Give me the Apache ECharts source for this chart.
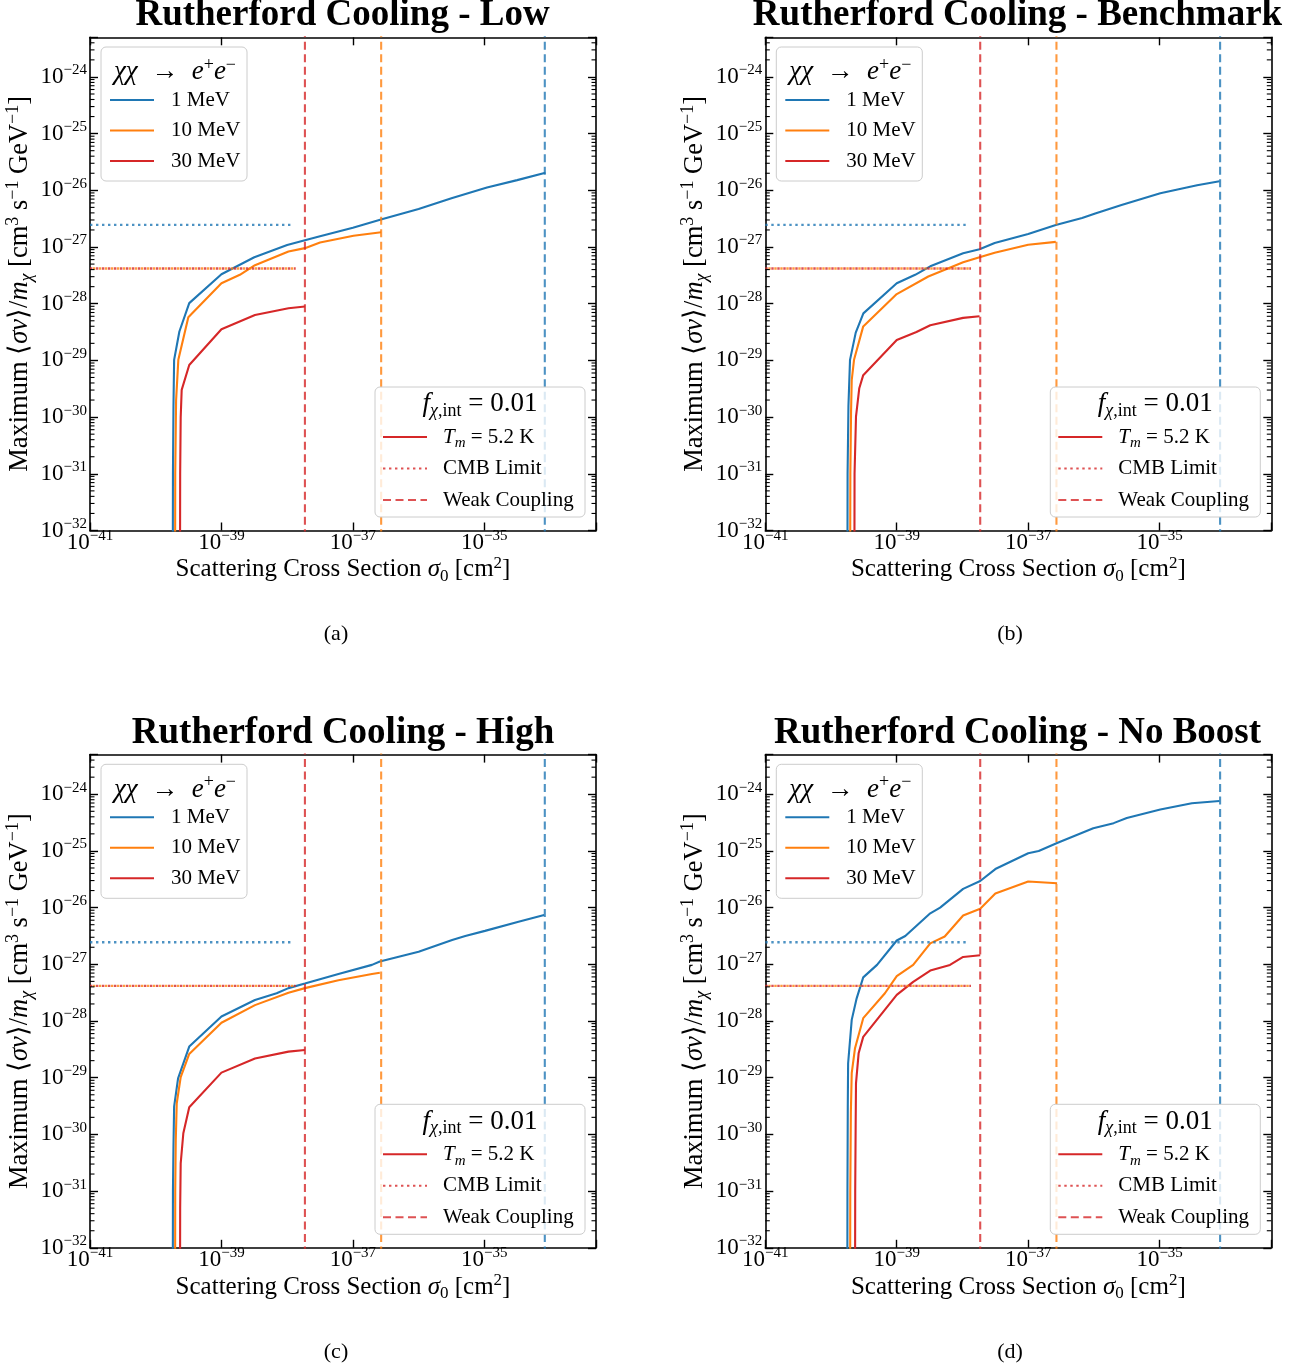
<!DOCTYPE html>
<html><head><meta charset="utf-8">
<script src="https://cdn.jsdelivr.net/npm/echarts@6/dist/echarts.min.js"></script>
<style>html,body{margin:0;padding:0;background:#fff}#c{width:1307px;height:1369px}</style>
</head><body><div id="c"></div>
<script>
// ---------------- data (log10 values) ----------------
// both axes are logarithmic: every number below is a base-10 exponent
const xTickExponents = [-41, -39, -37, -35];
const yTickExponents = [-32, -31, -30, -29, -28, -27, -26, -25, -24];
const massLabels = ['1 MeV', '10 MeV', '30 MeV'];
const panelTitles = ['Rutherford Cooling - Low', 'Rutherford Cooling - Benchmark', 'Rutherford Cooling - High', 'Rutherford Cooling - No Boost'];
const panelCaptions = ['(a)', '(b)', '(c)', '(d)'];
// weak-coupling limit (log10 sigma0) for 1, 10, 30 MeV
const weakCouplingLogSigma = [-34.08, -36.57, -37.73];
// CMB limit (log10 <sv>/m) and where the dotted line ends (log10 sigma0)
const cmbLimitLogRate = [-26.61, -27.38, -27.38];
const cmbLimitEndLogSigma = [-37.94, -37.87, -37.87];

// [log10 sigma0, log10 <sv>/m]
const lowBlue = [[-39.742,-34],[-39.738,-31],[-39.73,-29.8],[-39.72,-28.99],[-39.64,-28.49],[-39.49,-27.99],[-39.0,-27.48],[-38.5,-27.18],[-38.0,-26.965],[-37.73,-26.88],[-37.5,-26.81],[-37.0,-26.66],[-36.56,-26.51],[-36.0,-26.33],[-35.5,-26.14],[-34.96,-25.95],[-34.5,-25.82],[-34.07,-25.69]];
const lowOrange = [[-39.707,-34],[-39.703,-31],[-39.69,-29.7],[-39.656,-28.99],[-39.504,-28.24],[-39.0,-27.64],[-38.72,-27.49],[-38.49,-27.32],[-37.98,-27.08],[-37.73,-27.02],[-37.5,-26.92],[-36.99,-26.80],[-36.57,-26.74]];
const lowRed = [[-39.632,-34],[-39.628,-31],[-39.62,-30.0],[-39.605,-29.52],[-39.49,-29.08],[-39.0,-28.45],[-38.49,-28.2],[-37.98,-28.08],[-37.73,-28.05]];

const benchBlue = [[-39.752,-34],[-39.748,-31],[-39.735,-29.8],[-39.711,-28.99],[-39.624,-28.51],[-39.508,-28.17],[-39.0,-27.64],[-38.72,-27.49],[-38.49,-27.34],[-37.99,-27.11],[-37.74,-27.04],[-37.51,-26.93],[-37.0,-26.77],[-36.58,-26.61],[-36.18,-26.49],[-35.98,-26.41],[-35.58,-26.26],[-34.99,-26.05],[-34.71,-25.98],[-34.43,-25.91],[-34.09,-25.84]];
const benchOrange = [[-39.711,-34],[-39.706,-31],[-39.695,-29.9],[-39.685,-29.35],[-39.65,-28.99],[-39.51,-28.40],[-39.0,-27.83],[-38.52,-27.52],[-37.99,-27.27],[-37.74,-27.18],[-37.51,-27.10],[-37.0,-26.96],[-36.58,-26.91]];
const benchRed = [[-39.646,-34],[-39.642,-31],[-39.62,-29.99],[-39.57,-29.49],[-39.51,-29.26],[-39.0,-28.64],[-38.70,-28.50],[-38.49,-28.38],[-37.99,-28.25],[-37.74,-28.22]];

const highBlue = [[-39.742,-34],[-39.738,-31],[-39.73,-30.2],[-39.72,-29.51],[-39.66,-29.01],[-39.49,-28.45],[-39.0,-27.92],[-38.49,-27.63],[-38.16,-27.51],[-37.98,-27.42],[-37.73,-27.34],[-37.22,-27.17],[-36.71,-27.01],[-36.59,-26.95],[-36.0,-26.78],[-35.49,-26.57],[-35.29,-26.50],[-34.99,-26.41],[-34.48,-26.25],[-34.09,-26.13]];
const highOrange = [[-39.707,-34],[-39.703,-31],[-39.695,-30.1],[-39.68,-29.45],[-39.62,-28.99],[-39.49,-28.58],[-39.0,-28.03],[-38.49,-27.72],[-37.98,-27.50],[-37.73,-27.42],[-37.22,-27.28],[-36.71,-27.17],[-36.59,-27.15]];
const highRed = [[-39.632,-34],[-39.628,-31.3],[-39.62,-30.51],[-39.58,-29.98],[-39.49,-29.52],[-39.0,-28.91],[-38.49,-28.66],[-37.98,-28.54],[-37.73,-28.51]];

const noBoostBlue = [[-39.753,-34],[-39.75,-31],[-39.745,-29.5],[-39.74,-28.75],[-39.685,-27.98],[-39.61,-27.6],[-39.51,-27.23],[-39.30,-27.01],[-39.0,-26.58],[-38.87,-26.50],[-38.49,-26.10],[-38.34,-26.00],[-37.99,-25.67],[-37.73,-25.53],[-37.50,-25.32],[-37.0,-25.04],[-36.84,-25.00],[-36.56,-24.86],[-36.01,-24.60],[-35.70,-24.51],[-35.50,-24.42],[-34.99,-24.27],[-34.51,-24.16],[-34.09,-24.12]];
const noBoostOrange = [[-39.711,-34],[-39.707,-31],[-39.698,-29.6],[-39.685,-28.92],[-39.635,-28.48],[-39.51,-27.95],[-39.18,-27.51],[-39.0,-27.21],[-38.75,-27.01],[-38.49,-26.63],[-38.27,-26.51],[-37.99,-26.14],[-37.73,-26.02],[-37.50,-25.75],[-37.0,-25.54],[-36.56,-25.57]];
const noBoostRed = [[-39.636,-34],[-39.632,-31],[-39.625,-29.8],[-39.62,-29.10],[-39.58,-28.57],[-39.51,-28.28],[-39.0,-27.54],[-38.75,-27.31],[-38.49,-27.11],[-38.19,-27.01],[-37.99,-26.87],[-37.73,-26.84]];

const panelCurves = [
  [lowBlue, lowOrange, lowRed],
  [benchBlue, benchOrange, benchRed],
  [highBlue, highOrange, highRed],
  [noBoostBlue, noBoostOrange, noBoostRed]
];

// ---------------- styling / layout ----------------
const SERIF = '"Liberation Serif","Times New Roman",serif';
const COLORS = ['#1f77b4', '#ff7f0e', '#d62728'];
// axis extents, as exponents: 1e-41 .. 5e-34 and 1e-32 .. 5e-24
const X_MIN = -41, X_MAX = Math.log10(5e-34), Y_MIN = -32, Y_MAX = Math.log10(5e-24);
const GW = 506, GH = 493.2;
const gridPos = [
  {left: 90, top: 37.3}, {left: 765.3, top: 37.3},
  {left: 90, top: 754.6}, {left: 765.3, top: 754.6}
];
const titlePos = [[342.5, 15], [1017.5, 15], [343, 733], [1017.5, 733]];
const captionPos = [[336, 634], [1010, 634], [336, 1352], [1010, 1352]];

// minor tick exponents (2..9 x 10^e) on the log y axis
const yMinor = [];
yTickExponents.forEach(e => { for (let m = 2; m <= 9; m++) { const v = e + Math.log10(m); if (v < Y_MAX - 0.001) yMinor.push(v); } });

function powLabel(v) {
  const e = Math.round(v);
  if (Math.abs(v - e) > 0.001) return '';
  return '{b|10}{s|' + (e < 0 ? '\u2212' : '') + Math.abs(e) + '}';
}
const tickRich = {
  b: {fontFamily: SERIF, fontSize: 23, lineHeight: 28, color: '#000'},
  s: {fontFamily: SERIF, fontSize: 15, lineHeight: 21, verticalAlign: 'top', color: '#000'}
};
const nameRichX = {
  r: {fontFamily: SERIF, fontSize: 25, lineHeight: 30, color: '#000'},
  i: {fontFamily: SERIF, fontSize: 25, lineHeight: 30, fontStyle: 'italic', color: '#000'},
  sp: {fontFamily: SERIF, fontSize: 17, lineHeight: 22, verticalAlign: 'top', color: '#000'},
  sb: {fontFamily: SERIF, fontSize: 17, lineHeight: 21, verticalAlign: 'bottom', color: '#000'}
};
const nameRichY = {
  r: {fontFamily: SERIF, fontSize: 26.5, lineHeight: 32, color: '#000'},
  i: {fontFamily: SERIF, fontSize: 26.5, lineHeight: 32, fontStyle: 'italic', color: '#000'},
  sp: {fontFamily: SERIF, fontSize: 18, lineHeight: 23, verticalAlign: 'top', color: '#000'},
  sbi: {fontFamily: SERIF, fontSize: 18, lineHeight: 22, verticalAlign: 'bottom', fontStyle: 'italic', color: '#000'}
};
const legendRich = {
  r: {fontFamily: SERIF, fontSize: 21, lineHeight: 28, color: '#000'},
  i: {fontFamily: SERIF, fontSize: 21, lineHeight: 28, fontStyle: 'italic', color: '#000'},
  ti: {fontFamily: SERIF, fontSize: 27, lineHeight: 32, fontStyle: 'italic', color: '#000'},
  tr: {fontFamily: SERIF, fontSize: 27, lineHeight: 32, color: '#000'},
  tsp: {fontFamily: SERIF, fontSize: 18, lineHeight: 23, verticalAlign: 'top', color: '#000'},
  tsbi: {fontFamily: SERIF, fontSize: 18, lineHeight: 22, verticalAlign: 'bottom', fontStyle: 'italic', color: '#000'},
  tsb: {fontFamily: SERIF, fontSize: 18, lineHeight: 22, verticalAlign: 'bottom', color: '#000'},
  sbi: {fontFamily: SERIF, fontSize: 15, lineHeight: 19, verticalAlign: 'bottom', fontStyle: 'italic', color: '#000'}
};

const axisLineStyle = {color: '#000', width: 1.6};
const tickStyle = {color: '#000', width: 1.4};
const grids = [], xAxes = [], yAxes = [], series = [], graphics = [];

function minorTickItem(params, api) {
  const v = api.value(1);
  const a = api.coord([X_MIN, v]);
  const b = api.coord([X_MAX, v]);
  return {type: 'group', children: [
    {type: 'line', shape: {x1: a[0], y1: a[1], x2: a[0] + 4.5, y2: a[1]}, style: {stroke: '#000', lineWidth: 1.1}},
    {type: 'line', shape: {x1: b[0] - 4.5, y1: b[1], x2: b[0], y2: b[1]}, style: {stroke: '#000', lineWidth: 1.1}}
  ]};
}

gridPos.forEach((g, p) => {
  grids.push({left: g.left, top: g.top, width: GW, height: GH, containLabel: false});
  const xCommon = {type: 'value', gridIndex: p, min: X_MIN, max: X_MAX, interval: 2, scale: true,
    splitLine: {show: false}, minorTick: {show: false}};
  const yCommon = {type: 'value', gridIndex: p, min: Y_MIN, max: Y_MAX, interval: 1, scale: true,
    splitLine: {show: false}, minorTick: {show: false}};
  // bottom x axis
  xAxes.push(Object.assign({}, xCommon, {
    position: 'bottom',
    axisLine: {show: true, onZero: false, lineStyle: axisLineStyle},
    axisTick: {show: true, inside: true, length: 8, lineStyle: tickStyle},
    axisLabel: {show: true, formatter: powLabel, rich: tickRich, margin: -2, showMinLabel: true, showMaxLabel: true, hideOverlap: false},
    name: '{r|Scattering Cross Section }{i|\u03c3}{sb|0}{r| [cm}{sp|2}{r|]}',
    nameLocation: 'middle', nameGap: 15, nameTextStyle: {rich: nameRichX}
  }));
  // top x axis (spine + ticks)
  xAxes.push(Object.assign({}, xCommon, {
    position: 'top',
    axisLine: {show: true, onZero: false, lineStyle: axisLineStyle},
    axisTick: {show: true, inside: true, length: 8, lineStyle: tickStyle},
    axisLabel: {show: false}
  }));
  // left y axis
  yAxes.push(Object.assign({}, yCommon, {
    position: 'left',
    axisLine: {show: true, onZero: false, lineStyle: axisLineStyle},
    axisTick: {show: true, inside: true, length: 8, lineStyle: tickStyle},
    axisLabel: {show: true, formatter: powLabel, rich: tickRich, margin: 3, showMinLabel: true, hideOverlap: false},
    name: '{r|Maximum \u27e8}{i|\u03c3v}{r|\u27e9/}{i|m}{sbi|\u03c7}{r| [cm}{sp|3}{r| s}{sp|\u22121}{r| GeV}{sp|\u22121}{r|]}',
    nameLocation: 'middle', nameRotate: 90, nameGap: 54, nameTextStyle: {rich: nameRichY}
  }));
  // right y axis
  yAxes.push(Object.assign({}, yCommon, {
    position: 'right',
    axisLine: {show: true, onZero: false, lineStyle: axisLineStyle},
    axisTick: {show: true, inside: true, length: 8, lineStyle: tickStyle},
    axisLabel: {show: false}
  }));

  const xi = 2 * p, yi = 2 * p;
  // minor ticks on the log y axes (left and right spines)
  series.push({
    type: 'custom', name: 'minor ticks ' + p, xAxisIndex: xi, yAxisIndex: yi, silent: true, z: 6,
    data: yMinor.map(v => [X_MIN, v]), renderItem: minorTickItem, animation: false
  });
  // model curves
  panelCurves[p].forEach((curve, k) => {
    series.push({
      type: 'line', name: massLabels[k] + ' ' + p, xAxisIndex: xi, yAxisIndex: yi,
      data: curve, showSymbol: false, symbol: 'none', clip: true, z: 2,
      lineStyle: {color: COLORS[k], width: 2.1}, animation: false
    });
  });
  // CMB limits (dotted)
  [0, 1, 2].forEach(k => {
    series.push({
      type: 'line', name: 'CMB ' + massLabels[k] + ' ' + p, xAxisIndex: xi, yAxisIndex: yi,
      data: [[X_MIN, cmbLimitLogRate[k]], [cmbLimitEndLogSigma[k], cmbLimitLogRate[k]]],
      showSymbol: false, symbol: 'none', clip: true, z: 3,
      lineStyle: {color: COLORS[k], width: 2.4, opacity: 0.8, type: [2.4, 3.6], dashOffset: k === 1 ? 3 : 0},
      animation: false
    });
  });
  // weak coupling (dashed)
  [0, 1, 2].forEach(k => {
    series.push({
      type: 'line', name: 'Weak ' + massLabels[k] + ' ' + p, xAxisIndex: xi, yAxisIndex: yi,
      data: [[weakCouplingLogSigma[k], Y_MIN - 1], [weakCouplingLogSigma[k], Y_MAX + 1]],
      showSymbol: false, symbol: 'none', clip: true, z: 3,
      lineStyle: {color: COLORS[k], width: 2.1, opacity: 0.8, type: [8, 4.5]},
      animation: false
    });
  });

  // titles and captions
  graphics.push({type: 'text', z: 20, style: {text: panelTitles[p], x: titlePos[p][0], y: titlePos[p][1],
    align: 'center', verticalAlign: 'middle', fill: '#000', font: 'bold 37px ' + SERIF}});
  graphics.push({type: 'text', z: 20, style: {text: panelCaptions[p], x: captionPos[p][0], y: captionPos[p][1],
    align: 'center', verticalAlign: 'middle', fill: '#000', font: '22px ' + SERIF}});

  // legend 1 (masses)
  const L = g.left, T = g.top;
  graphics.push({type: 'rect', z: 10, shape: {x: L + 11, y: T + 9.7, width: 146, height: 134, r: 5},
    style: {fill: 'rgba(255,255,255,0.8)', stroke: '#cccccc', lineWidth: 1}});
  graphics.push({type: 'text', z: 11, style: {text: '{ti|\u03c7\u03c7}{tr|\u2002\u2192\u2002}{ti|e}{tsp|+}{ti|e}{tsp|\u2212}',
    rich: legendRich, x: L + 85, y: T + 35, align: 'center', verticalAlign: 'middle'}});
  massLabels.forEach((lab, k) => {
    const yy = T + 62.7 + 30.5 * k;
    graphics.push({type: 'line', z: 11, shape: {x1: L + 20, y1: yy, x2: L + 64, y2: yy},
      style: {stroke: COLORS[k], lineWidth: 2.1}});
    graphics.push({type: 'text', z: 11, style: {text: '{r|' + lab + '}', rich: legendRich,
      x: L + 81, y: yy, align: 'left', verticalAlign: 'middle'}});
  });
  // legend 2 (line styles)
  graphics.push({type: 'rect', z: 10, shape: {x: L + 285, y: T + 349.7, width: 210, height: 130, r: 5},
    style: {fill: 'rgba(255,255,255,0.8)', stroke: '#cccccc', lineWidth: 1}});
  graphics.push({type: 'text', z: 11, style: {text: '{ti|f}{tsbi|\u03c7}{tsb|,int}{tr| = 0.01}',
    rich: legendRich, x: L + 390, y: T + 367, align: 'center', verticalAlign: 'middle'}});
  const rows2 = [
    {text: '{i|T}{sbi|m}{r| = 5.2 K}', dash: null, op: 1},
    {text: '{r|CMB Limit}', dash: [2.4, 3.6], op: 0.8},
    {text: '{r|Weak Coupling}', dash: [8, 4.5], op: 0.8}
  ];
  rows2.forEach((row, k) => {
    const yy = T + 399.7 + 31.5 * k;
    graphics.push({type: 'line', z: 11, shape: {x1: L + 293, y1: yy, x2: L + 337, y2: yy},
      style: {stroke: COLORS[2], lineWidth: 2.1, lineDash: row.dash, opacity: row.op}});
    graphics.push({type: 'text', z: 11, style: {text: row.text, rich: legendRich,
      x: L + 353, y: yy, align: 'left', verticalAlign: 'middle'}});
  });
});

const chart = echarts.init(document.getElementById('c'), null, {renderer: 'canvas'});
chart.setOption({
  animation: false,
  backgroundColor: '#fff',
  textStyle: {fontFamily: SERIF},
  grid: grids, xAxis: xAxes, yAxis: yAxes, series: series, graphic: graphics
});
</script></body></html>
